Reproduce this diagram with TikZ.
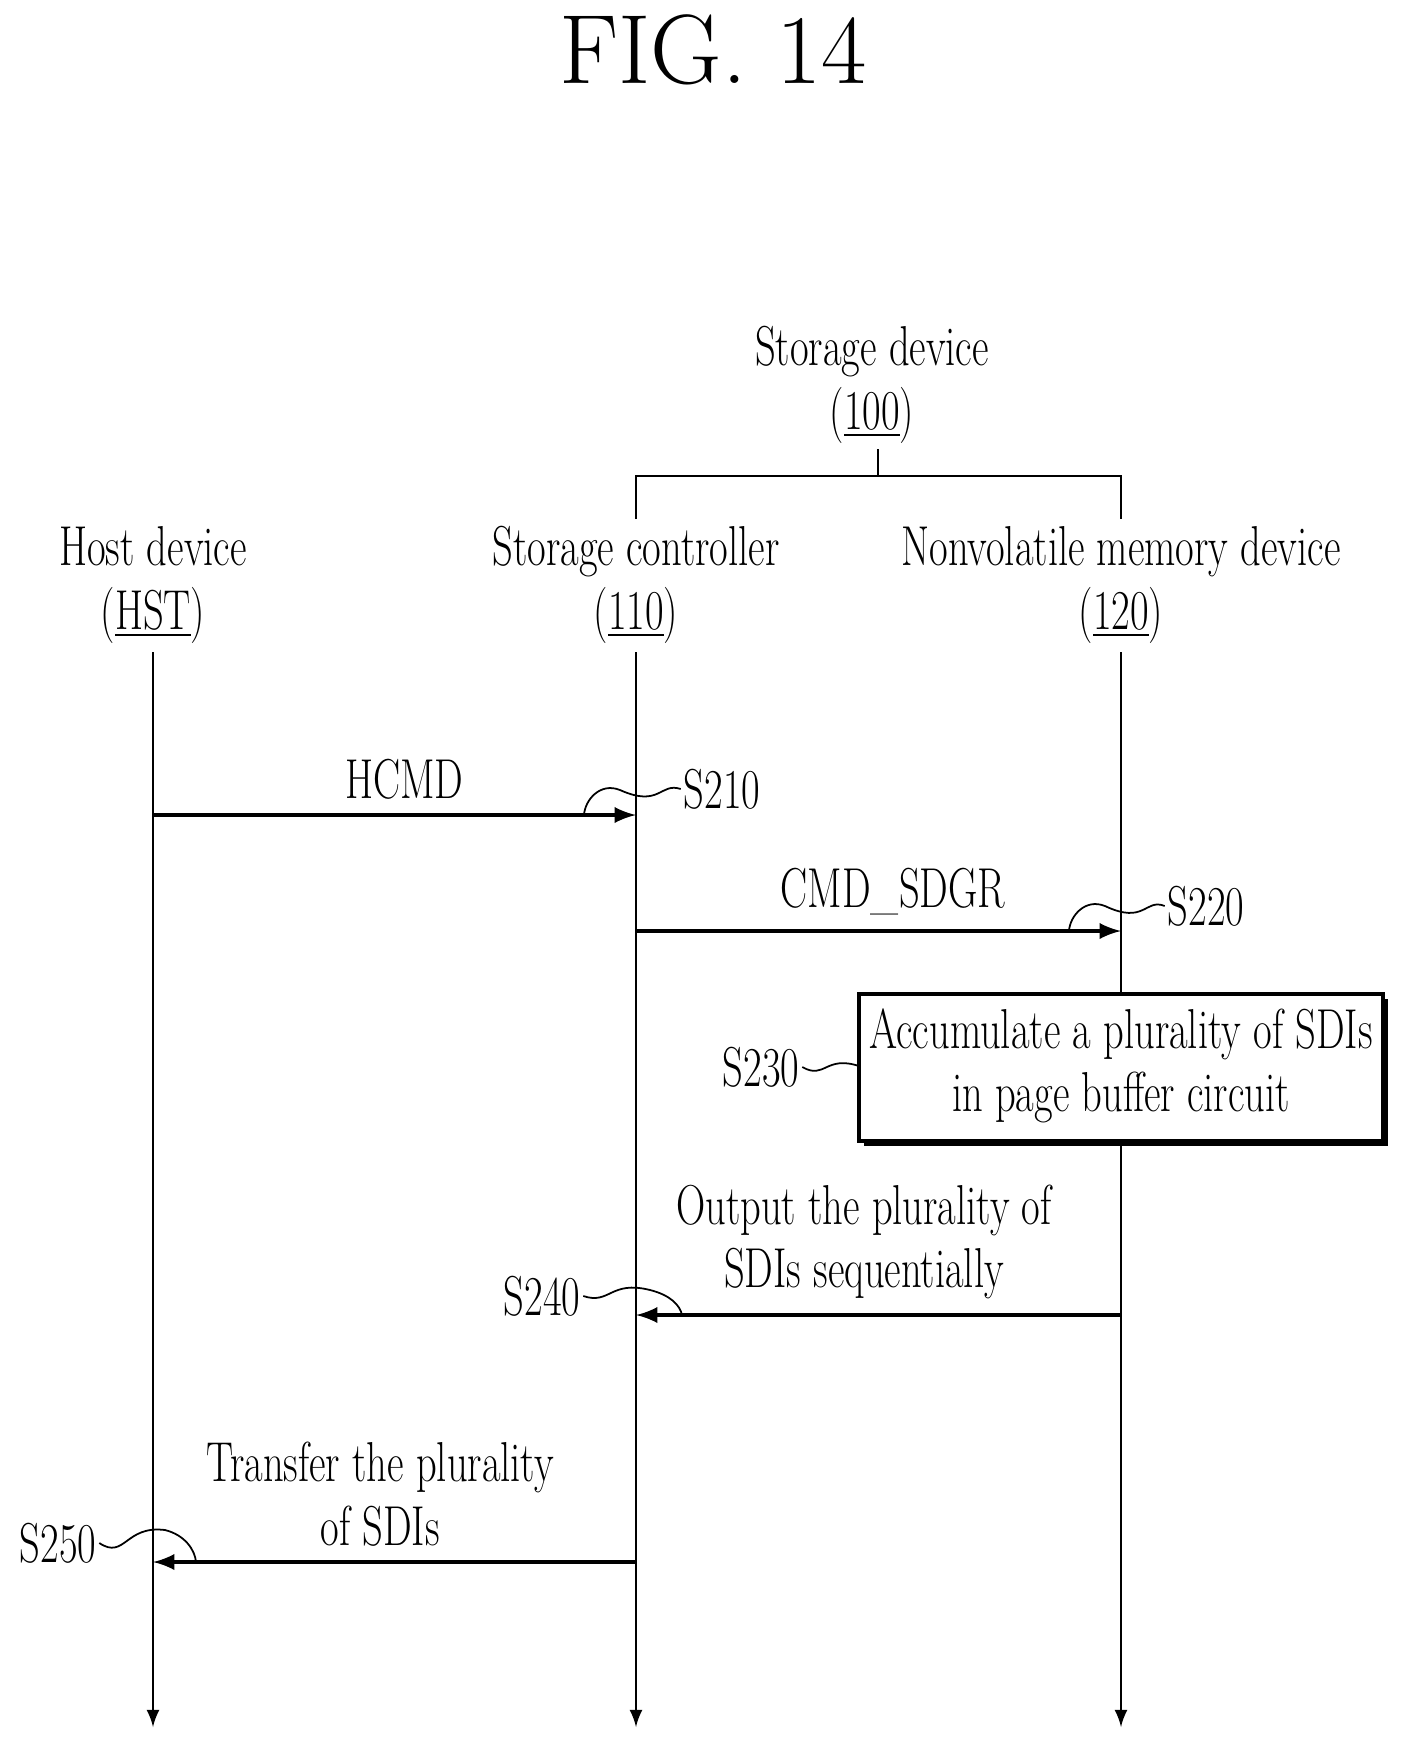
\documentclass[tikz,border=0pt]{standalone}
\usepackage{tikz}
\usetikzlibrary{calc,arrows,shadows}
\tikzset{
   lbl/.style={font=\fontsize{16}{18}\selectfont, xscale=0.72, transform shape, inner sep=1pt, align=center},
   msg/.style={->, >=latex, line width=1.1pt},
   life/.style={->, >=latex, line width=0.7pt},
   hook/.style={line width=0.5pt}
}
\begin{document}
\begin{tikzpicture}[x=0.01cm,y=-0.01cm]
\useasboundingbox (0,0) rectangle (1415,1754);
\node[font=\fontsize{28}{32}\selectfont] (title) at (713,50) {FIG. 14};
%
\node[lbl] (sd)   at (872,385) {Storage device\\(\underline{100})};
\node[lbl] (hst)  at (153,585) {Host device\\(\underline{HST})};
\node[lbl] (ctl)  at (636,585) {Storage controller\\(\underline{110})};
\node[lbl] (nvm)  at (1121,585) {Nonvolatile memory device\\(\underline{120})};
%
\draw[line width=0.7pt] (878,449) -- (878,476);
\draw[line width=0.7pt] (636,519) -- (636,476) -- (1121,476) -- (1121,519);
% lifelines
\coordinate (h0) at (153,652);  \coordinate (h1) at (153,1727);
\coordinate (c0) at (636,652);  \coordinate (c1) at (636,1727);
\coordinate (n0) at (1121,652); \coordinate (n1) at (1121,1727);
\draw[life] (h0) -- (h1);
\draw[life] (c0) -- (c1);
\draw[life] (n0) -- (n1);
% messages
\coordinate (a1) at (153,815); \coordinate (b1) at (636,815);
\draw[msg] (a1) -- (b1) node[lbl,pos=0.52,above=3pt] {HCMD};
\node[lbl] (s210) at (722,789) {S210};
\draw[hook] (s210.west) .. controls (660,782) and (660,808) .. (620,790) .. controls (600,782) and (585,800) .. (584,815);
%
\coordinate (a2) at (636,931); \coordinate (b2) at (1121,931);
\draw[msg] (a2) -- (b2) node[lbl,pos=0.53,above=3pt] {CMD\_SDGR};
\node[lbl] (s220) at (1206,906) {S220};
\draw[hook] (s220.west) .. controls (1145,898) and (1145,925) .. (1105,906) .. controls (1085,898) and (1070,916) .. (1069,931);
%
\coordinate (p1) at (859,994); \coordinate (p2) at (1383,1141);
\fill[black] ($(p1)+(5,5)$) rectangle ($(p2)+(5,5)$);
\draw[fill=white, line width=1pt] (p1) rectangle (p2);
\node[lbl] (acc) at (1121,1066) {Accumulate a plurality of SDIs\\in page buffer circuit};
\node[lbl] (s230) at (761,1067) {S230};
\draw[hook] (s230.east) .. controls (825,1080) and (825,1055) .. (859,1066);
%
\coordinate (a3) at (1121,1315); \coordinate (b3) at (636,1315);
\draw[msg] (a3) -- (b3) node[lbl,pos=0.53,above=3pt] {Output the plurality of\\SDIs sequentially};
\node[lbl] (s240) at (542,1296) {S240};
\draw[hook] (s240.east) .. controls (610,1305) and (610,1280) .. (650,1290) .. controls (670,1295) and (680,1305) .. (682,1315);
%
\coordinate (a4) at (636,1562); \coordinate (b4) at (153,1562);
\draw[msg] (a4) -- (b4) node[lbl,pos=0.53,above=3pt] {Transfer the plurality\\of SDIs};
\node[lbl] (s250) at (58,1543) {S250};
\draw[hook] (s250.east) .. controls (125,1560) and (125,1525) .. (165,1530) .. controls (185,1535) and (195,1550) .. (196,1562);
\end{tikzpicture}
\end{document}
